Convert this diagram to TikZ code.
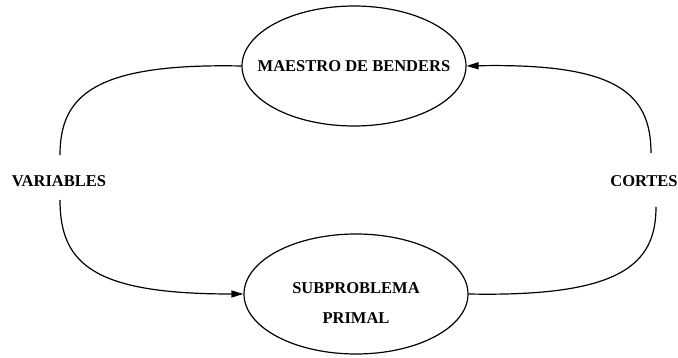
\documentclass[tikz,border=0pt]{standalone}
\usepackage{fontspec}
\setmainfont{Liberation Serif}
\usepackage{tikz}
\usetikzlibrary{arrows.meta,shapes.geometric,positioning}

\begin{document}
\begin{tikzpicture}[x=1pt,y=-1pt,line width=1.2pt,
    font=\fontsize{16.5}{30}\selectfont\bfseries,
    bloque/.style={draw,ellipse,inner xsep=-20pt,inner ysep=0pt,minimum width=224pt,minimum height=120pt,align=center},
    etiq/.style={inner sep=0pt},
    flecha/.style={-{Triangle[length=12pt,width=7pt]}}]
    \useasboundingbox (0,0) rectangle (678,358);
    \node[bloque] (maestro) at (354,66) {MAESTRO DE BENDERS};
    \node[bloque] (sub) at (356,294) {\rule{0pt}{29pt}SUBPROBLEMA\\PRIMAL};
    \node[etiq] (var) at (59,181) {VARIABLES};
    \node[etiq] (cortes) at (644,181) {CORTES};
    \coordinate (varup) at (60,155);
    \coordinate (vardown) at (60,200);
    \coordinate (corup) at (651,153);
    \coordinate (cordown) at (656,207);
    % lado izquierdo
    \draw (maestro.west) .. controls (95,63) and (60,95) .. (varup);
    \draw[flecha] (vardown) .. controls (60,265) and (95,294) .. (sub.west);
    % lado derecho
    \draw (sub.east) .. controls (620,297) and (656,265) .. (cordown);
    \draw[flecha] (corup) .. controls (651,92) and (615,63) .. (maestro.east);
  \end{tikzpicture}
\end{document}
